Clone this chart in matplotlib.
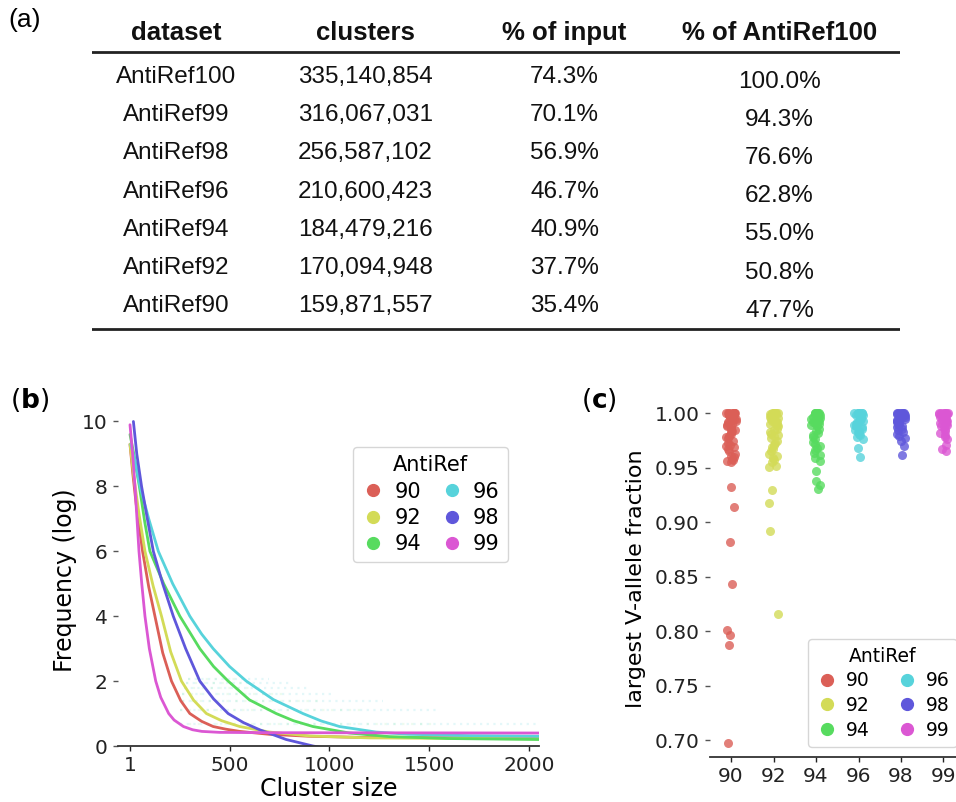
import numpy as np
import matplotlib.pyplot as plt
from matplotlib.lines import Line2D

# ---------------- data ----------------
# (a) table
headers = ['dataset', 'clusters', '% of input', '% of AntiRef100']
datasets = ['AntiRef100', 'AntiRef99', 'AntiRef98', 'AntiRef96', 'AntiRef94', 'AntiRef92', 'AntiRef90']
clusters = ['335,140,854', '316,067,031', '256,587,102', '210,600,423', '184,479,216', '170,094,948', '159,871,557']
pct_input = ['74.3%', '70.1%', '56.9%', '46.7%', '40.9%', '37.7%', '35.4%']
pct_ref100 = ['100.0%', '94.3%', '76.6%', '62.8%', '55.0%', '50.8%', '47.7%']

# (b) fitted frequency curves (cluster size, log frequency)
antiref = ['90', '92', '94', '96', '98', '99']
colors = ['#db5f57', '#d3db57', '#57db5f', '#57d3db', '#5f57db', '#db57d3']

x90 = [1, 15, 32, 64, 95, 126, 165, 209, 255, 301, 360, 418, 480, 551, 700, 900, 1200, 2050]
y90 = [9.3, 8.4, 7.45, 6.0, 4.9, 4.0, 2.87, 2.0, 1.40, 1.0, 0.76, 0.6, 0.52, 0.45, 0.36, 0.30, 0.26, 0.25]
x92 = [1, 20, 45, 76, 117, 159, 205, 259, 320, 384, 460, 551, 700, 900, 1200, 2050]
y92 = [9.3, 8.3, 7.2, 6.0, 4.93, 4.0, 2.9, 2.0, 1.41, 1.0, 0.78, 0.6, 0.43, 0.31, 0.25, 0.22]
x94 = [1, 20, 48, 75, 101, 170, 251, 351, 420, 493, 600, 734, 820, 918, 1101, 1300, 1600, 2050]
y94 = [9.6, 9.0, 8.0, 6.9, 6.0, 5.0, 4.0, 3.0, 2.45, 2.0, 1.42, 1.0, 0.78, 0.6, 0.4, 0.29, 0.23, 0.2]
x96 = [5, 25, 51, 95, 143, 215, 301, 360, 418, 500, 584, 720, 868, 960, 1051, 1234, 1400, 1700, 2050]
y96 = [9.3, 8.8, 8.0, 7.0, 6.0, 5.0, 4.0, 3.45, 3.0, 2.45, 2.0, 1.43, 1.0, 0.77, 0.6, 0.43, 0.36, 0.32, 0.3]
x98 = [18, 35, 59, 88, 118, 165, 218, 280, 351, 420, 493, 570, 651, 784, 918, 1100, 1500, 2050]
y98 = [10.0, 9.0, 8.0, 7.0, 6.0, 5.0, 4.0, 3.0, 2.0, 1.45, 1.0, 0.72, 0.5, 0.2, 0.0, -0.2, -0.4, -0.5]
x99 = [1, 14, 26, 46, 60, 76, 98, 130, 155, 195, 222, 269, 315, 361, 450, 700, 2050]
y99 = [9.9, 9.0, 8.0, 6.0, 5.0, 4.0, 3.0, 2.0, 1.5, 1.0, 0.8, 0.6, 0.5, 0.45, 0.42, 0.41, 0.40]

# faint bands of raw points (log of small counts) behind the curves
band_y = [0.69, 1.10, 1.39, 1.61, 1.79, 1.95, 2.08]
band_x0 = [250, 250, 260, 260, 270, 280, 290]
band_x1 = [2050, 1550, 1270, 1020, 900, 800, 700]

# (c) largest V-allele fraction per cluster
vf90 = [1.0, 1.0, 1.0, 1.0, 1.0, 1.0, 1.0, 1.0, 0.999, 0.999, 0.999, 0.998, 0.998, 0.997,
        0.997, 0.996, 0.995, 0.995, 0.994, 0.993, 0.992, 0.991, 0.990, 0.989, 0.988, 0.987,
        0.986, 0.985, 0.984, 0.983, 0.981, 0.979, 0.978, 0.977, 0.975, 0.973, 0.971, 0.970,
        0.969, 0.967, 0.965, 0.963, 0.961, 0.960, 0.958, 0.957, 0.956, 0.955,
        0.932, 0.914, 0.882, 0.843, 0.801, 0.797, 0.787, 0.698]
vf92 = [1.0, 1.0, 1.0, 1.0, 1.0, 1.0, 1.0, 0.999, 0.999, 0.998, 0.998, 0.997, 0.996, 0.995,
        0.994, 0.993, 0.992, 0.991, 0.990, 0.989, 0.988, 0.986, 0.985, 0.983, 0.981, 0.980,
        0.979, 0.977, 0.975, 0.973, 0.971, 0.969, 0.967, 0.965, 0.963, 0.961, 0.959, 0.957,
        0.955, 0.952, 0.951,
        0.930, 0.918, 0.892, 0.816]
vf94 = [1.0, 1.0, 1.0, 1.0, 1.0, 1.0, 1.0, 0.999, 0.999, 0.998, 0.998, 0.997, 0.996, 0.995,
        0.994, 0.993, 0.992, 0.991, 0.990, 0.989, 0.988, 0.986, 0.984, 0.982, 0.980, 0.978,
        0.976, 0.974, 0.972, 0.970, 0.968, 0.966, 0.964, 0.962, 0.959, 0.956,
        0.947, 0.938, 0.934, 0.931]
vf96 = [1.0, 1.0, 1.0, 1.0, 1.0, 1.0, 0.999, 0.999, 0.998, 0.998, 0.997, 0.996, 0.995, 0.994,
        0.993, 0.992, 0.991, 0.990, 0.989, 0.988, 0.987, 0.986, 0.985, 0.984, 0.983, 0.981,
        0.980, 0.978, 0.976, 0.968, 0.960]
vf98 = [1.0, 1.0, 1.0, 1.0, 1.0, 1.0, 0.999, 0.999, 0.998, 0.998, 0.997, 0.996, 0.995, 0.994,
        0.993, 0.992, 0.991, 0.990, 0.989, 0.988, 0.987, 0.986, 0.985, 0.983, 0.981, 0.979,
        0.977, 0.975, 0.970, 0.962]
vf99 = [1.0, 1.0, 1.0, 1.0, 1.0, 1.0, 0.999, 0.999, 0.998, 0.998, 0.997, 0.996, 0.995, 0.994,
        0.993, 0.992, 0.991, 0.990, 0.989, 0.988, 0.987, 0.986, 0.984, 0.982, 0.980, 0.978,
        0.976, 0.971, 0.967, 0.965]

# ---------------- figure ----------------
plt.rcParams['font.family'] = ['DejaVu Sans']
plt.rcParams['mathtext.fontset'] = 'dejavusans'
fig = plt.figure(figsize=(9.56, 8.02), dpi=100)
W, H = 956, 802

def fx(px):
    return px / W

def fy(py):
    return 1 - py / H

# ---- (a) table ----
axt = fig.add_axes([fx(92), fy(335), fx(900) - fx(92), fy(0) - fy(335)])
axt.set_xlim(0, 1)
axt.set_ylim(6.754, -2.016)
axt.axis('off')
col_x = [0.104, 0.338, 0.585, 0.851]
tfont = dict(family='Liberation Sans', ha='center', va='center', color='#111111')
for cx, h in zip(col_x, headers):
    axt.text(cx, -1.15, h, fontweight='bold', fontsize=18.5, **tfont)
for i in range(len(datasets)):
    axt.text(col_x[0], i, datasets[i], fontsize=17.5, **tfont)
    axt.text(col_x[1], i, clusters[i], fontsize=17.5, **tfont)
    axt.text(col_x[2], i, pct_input[i], fontsize=17.5, **tfont)
    axt.text(col_x[3], i + 0.12, pct_ref100[i], fontsize=17.5, **tfont)
axt.axhline(-0.654, color='#222222', lw=2)
axt.axhline(6.597, color='#222222', lw=2)
fig.text(fx(8), fy(20), '(a)', fontsize=19, va='center', family='Liberation Sans')

# ---- (b) curves ----
xl_b = (-60, 2052)
px0_b, pxs_b = 130, 0.1995  # pixel of x=1, pixels per unit
axb = fig.add_axes([fx(px0_b + (xl_b[0] - 1) * pxs_b), fy(746),
                    (xl_b[1] - xl_b[0]) * pxs_b / W, fy(415) - fy(746)])
for y0, a, b in zip(band_y, band_x0, band_x1):
    axb.hlines(y0, a, b, color=colors[3], alpha=0.16, lw=1.6, linestyles=(0, (1, 2)))
    axb.hlines(y0, a, b * 0.75, color=colors[2], alpha=0.10, lw=1.6, linestyles=(0, (1, 3)))
curves = [(x90, y90), (x92, y92), (x94, y94), (x96, y96), (x98, y98), (x99, y99)]
for (cx_, cy_), c in zip(curves, colors):
    axb.plot(cx_, cy_, color=c, lw=2.0, solid_capstyle='round', solid_joinstyle='round')
axb.set_xlim(*xl_b)
axb.set_ylim(0, 10.2)
axb.set_xticks([1, 500, 1000, 1500, 2000])
axb.set_yticks([0, 2, 4, 6, 8, 10])
axb.set_xlabel('Cluster size', fontsize=17, labelpad=1)
axb.set_ylabel('Frequency (log)', fontsize=17, labelpad=3)

# ---- (c) strip plot ----
axc = fig.add_axes([fx(709.75), fy(756.7), 255 / W, fy(400.2) - fy(756.7)])
rng = np.random.default_rng(7)
vfs = [vf90, vf92, vf94, vf96, vf98, vf99]
for k, (vals, c) in enumerate(zip(vfs, colors)):
    jit = rng.uniform(-0.11, 0.11, len(vals))
    axc.scatter(k + jit, vals, s=42, color=c, alpha=0.8, linewidths=0, zorder=3)
axc.set_xlim(-0.5, 5.5)
axc.set_ylim(0.685, 1.012)
axc.set_xticks(range(6))
axc.set_xticklabels(antiref)
yt_c = [0.70, 0.75, 0.80, 0.85, 0.90, 0.95, 1.00]
axc.set_yticks(yt_c)
axc.set_yticklabels(['%.2f' % v for v in yt_c])
axc.set_ylabel('largest V-allele fraction', fontsize=16, labelpad=6)

for ax in (axb, axc):
    for s in ('left', 'right', 'top'):
        ax.spines[s].set_visible(False)
    ax.spines['bottom'].set_color('#333333')
    ax.spines['bottom'].set_linewidth(1.3)
    ax.tick_params(axis='both', labelsize=14.5, colors='#222222', length=3.5, width=1, pad=4)
    ax.tick_params(axis='y', colors='#555555', labelcolor='#222222')

handles = [Line2D([], [], marker='o', ls='', color=c, markersize=8.5) for c in colors]
lb = axb.legend(handles, antiref, title='AntiRef', ncol=2, fontsize=15, title_fontsize=15,
                loc='upper right', bbox_to_anchor=(fx(508), fy(447)),
                bbox_transform=fig.transFigure, handletextpad=0.4, columnspacing=0.9,
                labelspacing=0.3, borderpad=0.4, handlelength=1.2, borderaxespad=0)
lc = axc.legend(handles, antiref, title='AntiRef', ncol=2, fontsize=13.5, title_fontsize=13.5,
                loc='lower left', bbox_to_anchor=(fx(808), fy(747)),
                bbox_transform=fig.transFigure, handletextpad=0.4, columnspacing=1.4,
                labelspacing=0.3, borderpad=0.4, handlelength=1.2, borderaxespad=0)
for lg in (lb, lc):
    lg.get_frame().set_edgecolor('#cccccc')

fig.text(fx(10), fy(400), r'($\mathbf{b}$)', fontsize=19, va='center')
fig.text(fx(581), fy(400), r'($\mathbf{c}$)', fontsize=19, va='center')

fig.savefig('out.png', dpi=100)
